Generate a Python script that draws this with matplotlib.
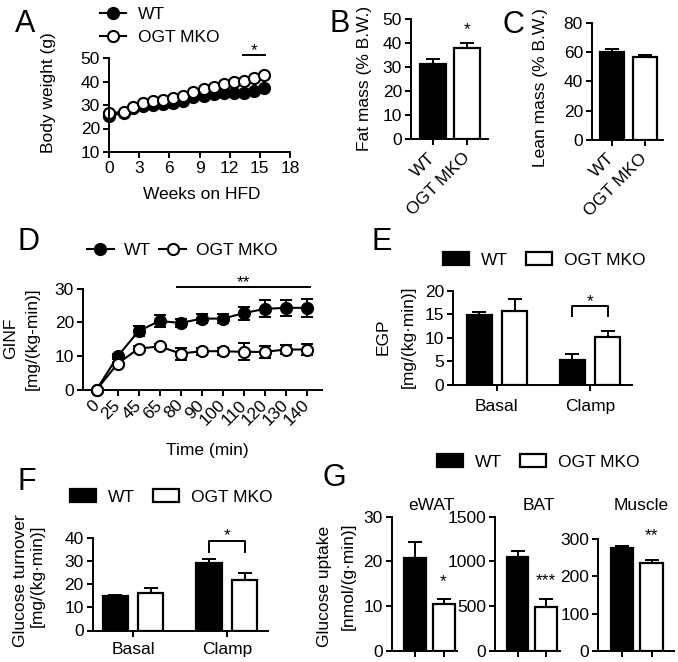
import matplotlib
matplotlib.use('Agg')
import matplotlib.pyplot as plt
from matplotlib.lines import Line2D
from matplotlib.patches import Patch

plt.rcParams['font.family'] = ['Liberation Sans', 'DejaVu Sans']
plt.rcParams['font.size'] = 12.5
plt.rcParams['axes.linewidth'] = 1.4

# ---------------- data ----------------
groups = ['WT', 'OGT MKO']

# A: body weight on HFD
weeks = [0, 1.5, 2.4, 3.4, 4.4, 5.4, 6.4, 7.4, 8.4, 9.4, 10.4, 11.4, 12.4, 13.4, 14.4, 15.4]
bw_wt = [25.3, 26.7, 28.6, 29.6, 30.0, 30.4, 30.7, 31.8, 33.3, 33.8, 34.7, 35.0, 35.0, 35.2, 36.0, 37.1]
bw_ko = [26.5, 27.1, 29.3, 30.7, 31.7, 32.1, 32.8, 33.8, 35.7, 36.7, 37.8, 38.9, 39.6, 40.3, 41.4, 42.6]

# B / C: body composition
fat_mean = [31.5, 38.0]
fat_err = [2.0, 2.3]
lean_mean = [60.0, 56.5]
lean_err = [2.0, 1.8]

# D: GINF
time_labels = ['0', '25', '45', '65', '80', '90', '100', '110', '120', '130', '140']
ginf_wt = [0, 9.9, 17.4, 20.4, 19.8, 21.1, 21.1, 22.7, 24.0, 24.3, 24.3]
ginf_wt_err = [0, 0.8, 1.4, 1.9, 1.2, 1.4, 1.4, 2.0, 2.5, 2.4, 2.7]
ginf_ko = [0, 7.7, 12.2, 12.8, 10.7, 11.4, 11.4, 11.2, 11.2, 11.9, 11.9]
ginf_ko_err = [0, 0.5, 0.7, 0.8, 1.8, 1.0, 1.0, 2.5, 1.8, 1.3, 1.7]

# E: EGP
conditions = ['Basal', 'Clamp']
egp_wt = [14.9, 5.2]
egp_wt_err = [0.7, 1.3]
egp_ko = [15.8, 10.1]
egp_ko_err = [2.4, 1.4]

# F: glucose turnover
turn_wt = [15.1, 29.5]
turn_wt_err = [0.5, 1.5]
turn_ko = [16.2, 21.7]
turn_ko_err = [2.1, 3.2]

# G: glucose uptake
tissues = ['eWAT', 'BAT', 'Muscle']
upt_wt = [20.8, 1045, 276]
upt_wt_err = [3.5, 70, 6]
upt_ko = [10.4, 485, 235]
upt_ko_err = [1.1, 93, 10]
upt_ylim = [30, 1500, 300]
upt_ticks = [[0, 10, 20, 30], [0, 500, 1000, 1500], [0, 100, 200, 300]]
upt_stars = ['*', '***', '**']
upt_star_y = [14.5, 735, 299]

# ---------------- figure ----------------
W, H = 678, 662
fig = plt.figure(figsize=(W / 100, H / 100), dpi=100)
FS = 12.5
LW = 1.4


def add_ax(l, t, r, b):
    return fig.add_axes([l / W, 1 - b / H, (r - l) / W, (b - t) / H])


def ftext(x, y, s, **kw):
    kw.setdefault('fontsize', FS)
    return fig.text(x / W, 1 - y / H, s, **kw)


def style(ax, pad=2):
    for s in ['top', 'right']:
        ax.spines[s].set_visible(False)
    for s in ['left', 'bottom']:
        ax.spines[s].set_linewidth(LW)
    ax.tick_params(direction='out', length=4.5, width=LW, labelsize=FS, pad=pad)


def letter(x, y, s):
    ftext(x, y, s, fontsize=22, ha='left', va='baseline')


def bars(ax, x, vals, errs, width, color):
    ax.bar(x, vals, width=width, color=color, edgecolor='black', linewidth=1.6, zorder=2)
    ax.errorbar(x, vals, yerr=[[0] * len(vals), errs], fmt='none', ecolor='black',
                elinewidth=LW, capsize=5, capthick=LW, zorder=1)


mk = dict(markersize=8, markeredgewidth=1.5, linewidth=1.5, color='black', clip_on=False)

# ---- A ----
axA = add_ax(109, 58, 290, 152)
style(axA)
lA1, = axA.plot(weeks, bw_wt, marker='o', markerfacecolor='black', **mk)
lA2, = axA.plot(weeks, bw_ko, marker='o', markerfacecolor='white', **mk)
axA.set_xlim(0, 18)
axA.set_ylim(10, 50)
axA.set_xticks(range(0, 19, 3))
axA.set_yticks(range(10, 51, 10))
axA.plot([13.3, 15.5], [51.3, 51.3], color='black', lw=LW, clip_on=False)
axA.text(14.4, 51.3, '*', ha='center', va='baseline', fontsize=FS)
ftext(48, 93, 'Body weight (g)', rotation=90, ha='center', va='center')
ftext(202, 199, 'Weeks on HFD', ha='center', va='baseline')
fig.legend([lA1, lA2], groups, loc='center left', bbox_to_anchor=(100 / W, 1 - 26 / H),
           frameon=False, borderpad=0, borderaxespad=0, handlelength=1.5,
           handletextpad=0.7, labelspacing=0.42, fontsize=FS)
letter(15, 32, 'A')

# ---- B ----
axB = add_ax(411, 19.3, 488, 139.3)
style(axB)
bars(axB, [0], [fat_mean[0]], [fat_err[0]], 0.74, 'black')
bars(axB, [1], [fat_mean[1]], [fat_err[1]], 0.74, 'white')
axB.set_xlim(-0.65, 1.62)
axB.set_ylim(0, 50)
axB.set_yticks(range(0, 51, 10))
axB.set_xticks([0, 1])
axB.set_xticklabels(groups, rotation=45, ha='right', va='center', rotation_mode='anchor')
axB.tick_params(axis='x', pad=7)
axB.text(1, 44, '*', ha='center', va='baseline', fontsize=FS)
ftext(365, 78, 'Fat mass (% B.W.)', rotation=90, ha='center', va='center')
letter(329, 32, 'B')

# ---- C ----
axC = add_ax(592, 22.7, 663, 140)
style(axC)
bars(axC, [0], [lean_mean[0]], [lean_err[0]], 0.74, 'black')
bars(axC, [1], [lean_mean[1]], [lean_err[1]], 0.74, 'white')
axC.set_xlim(-0.6, 1.55)
axC.set_ylim(0, 80)
axC.set_yticks(range(0, 81, 20))
axC.set_xticks([0, 1])
axC.set_xticklabels(groups, rotation=45, ha='right', va='center', rotation_mode='anchor')
axC.tick_params(axis='x', pad=7)
ftext(541, 88, 'Lean mass (% B.W.)', rotation=90, ha='center', va='center')
letter(503, 33, 'C')

# ---- D ----
axD = add_ax(83, 288.7, 322, 389.5)
style(axD)
xd = list(range(len(time_labels)))
axD.errorbar(xd, ginf_wt, yerr=ginf_wt_err, fmt='none', ecolor='black', elinewidth=LW,
             capsize=4, capthick=LW, zorder=2)
axD.errorbar(xd, ginf_ko, yerr=ginf_ko_err, fmt='none', ecolor='black', elinewidth=LW,
             capsize=4, capthick=LW, zorder=2)
lD1, = axD.plot(xd, ginf_wt, marker='o', markerfacecolor='black', zorder=3, **mk)
lD2, = axD.plot(xd, ginf_ko, marker='o', markerfacecolor='white', zorder=3, **mk)
axD.set_xlim(-0.65, 10.73)
axD.set_ylim(0, 30)
axD.set_yticks([0, 10, 20, 30])
axD.set_xticks(xd)
axD.set_xticklabels(time_labels, rotation=45, ha='right', va='center', rotation_mode='anchor')
axD.tick_params(axis='x', pad=5)
axD.plot([3.84, 10.15], [30.6, 30.6], color='black', lw=LW, clip_on=False)
axD.text(7.0, 30.6, '**', ha='center', va='baseline', fontsize=FS)
ftext(11, 338, 'GINF', rotation=90, ha='center', va='center')
ftext(32, 339, '[mg/(kg-min)]', rotation=90, ha='center', va='center')
ftext(207, 455, 'Time (min)', ha='center', va='baseline')
fig.legend([lD1, lD2], groups, loc='center left', bbox_to_anchor=(87 / W, 1 - 250 / H),
           frameon=False, borderpad=0, borderaxespad=0, handlelength=1.55, ncol=2,
           handletextpad=0.55, columnspacing=0.5, fontsize=FS)
letter(18, 250, 'D')

# ---- E ----
axE = add_ax(453, 291, 632, 384.7)
style(axE)
xg = [0, 1]
bars(axE, [x - 0.19 for x in xg], egp_wt, egp_wt_err, 0.27, 'black')
bars(axE, [x + 0.19 for x in xg], egp_ko, egp_ko_err, 0.27, 'white')
axE.set_xlim(-0.47, 1.45)
axE.set_ylim(0, 20)
axE.set_yticks([0, 5, 10, 15, 20])
axE.set_xticks(xg)
axE.set_xticklabels(conditions)
axE.tick_params(axis='x', pad=6)
axE.plot([0.81, 0.81, 1.19, 1.19], [14.7, 16.7, 16.7, 14.7], color='black', lw=LW)
axE.text(1.0, 16.7, '*', ha='center', va='baseline', fontsize=FS)
ftext(383, 337, 'EGP', rotation=90, ha='center', va='center')
ftext(408, 337, '[mg/(kg\u00b7min)]', rotation=90, ha='center', va='center')
hW = Patch(facecolor='black', edgecolor='black', linewidth=1.6)
hK = Patch(facecolor='white', edgecolor='black', linewidth=1.6)
fig.legend([hW, hK], groups, loc='center left', bbox_to_anchor=(443 / W, 1 - 260 / H),
           frameon=False, borderpad=0, borderaxespad=0, handlelength=1.5, handleheight=0.8,
           ncol=2, handletextpad=0.7, columnspacing=1.0, fontsize=FS)
letter(372, 250, 'E')

# ---- F ----
axF = add_ax(92.7, 538.3, 268, 630.5)
style(axF)
bars(axF, [x - 0.19 for x in xg], turn_wt, turn_wt_err, 0.27, 'black')
bars(axF, [x + 0.19 for x in xg], turn_ko, turn_ko_err, 0.27, 'white')
axF.set_xlim(-0.43, 1.44)
axF.set_ylim(0, 40)
axF.set_yticks([0, 10, 20, 30, 40])
axF.set_xticks(xg)
axF.set_xticklabels(conditions)
axF.tick_params(axis='x', pad=4)
axF.plot([0.81, 0.81, 1.19, 1.19], [34, 39, 39, 34], color='black', lw=LW)
axF.text(1.0, 39, '*', ha='center', va='baseline', fontsize=FS)
ftext(21, 581, 'Glucose turnover', rotation=90, ha='center', va='center')
ftext(37, 576, '[mg/(kg\u00b7min)]', rotation=90, ha='center', va='center')
fig.legend([hW, hK], groups, loc='center left', bbox_to_anchor=(70 / W, 1 - 497 / H),
           frameon=False, borderpad=0, borderaxespad=0, handlelength=1.5, handleheight=0.8,
           ncol=2, handletextpad=0.7, columnspacing=1.0, fontsize=FS)
letter(18, 490, 'F')

# ---- G ----
g_boxes = [(391.7, 516.7, 456.7, 650.7), (495, 516.7, 560, 650.7), (598.3, 539.3, 674, 650.7)]
g_xlim = [(-0.82, 1.46), (-0.8, 1.5), (-0.8, 1.75)]
g_title_x = [431, 539, 641]
for i in range(3):
    ax = add_ax(*g_boxes[i])
    style(ax)
    bars(ax, [0], [upt_wt[i]], [upt_wt_err[i]], 0.77, 'black')
    bars(ax, [1], [upt_ko[i]], [upt_ko_err[i]], 0.77, 'white')
    ax.set_xlim(*g_xlim[i])
    ax.set_ylim(0, upt_ylim[i])
    ax.set_yticks(upt_ticks[i])
    ax.set_xticks([0, 1])
    ax.set_xticklabels([])
    ax.text(1, upt_star_y[i], upt_stars[i], ha='center', va='baseline', fontsize=FS)
    ftext(g_title_x[i], 510, tissues[i], ha='center', va='baseline')
ftext(325, 586, 'Glucose uptake', rotation=90, ha='center', va='center')
ftext(348, 576, '[nmol/(g\u00b7min)]', rotation=90, ha='center', va='center')
fig.legend([hW, hK], groups, loc='center left', bbox_to_anchor=(437 / W, 1 - 462 / H),
           frameon=False, borderpad=0, borderaxespad=0, handlelength=1.5, handleheight=0.8,
           ncol=2, handletextpad=0.7, columnspacing=1.0, fontsize=FS)
letter(322, 486, 'G')

fig.savefig('out.png', dpi=100)
